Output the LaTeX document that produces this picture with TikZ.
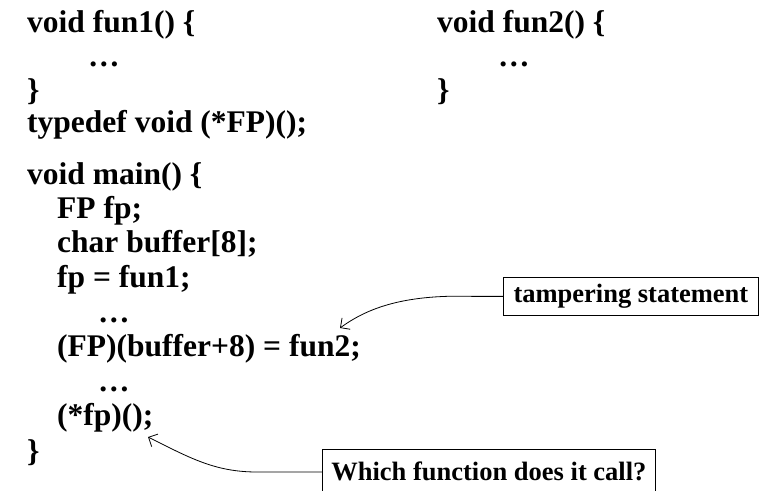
\documentclass[tikz,border=0pt]{standalone}
\usepackage{fontspec}
\setmainfont{Liberation Serif}
\usetikzlibrary{arrows.meta}
\begin{document}
\begin{tikzpicture}[x=1pt,y=1pt,
  code/.style={anchor=base west,inner sep=0pt,font=\fontsize{31.5}{36}\selectfont\bfseries},
  note/.style={draw,line width=0.8pt,inner sep=0pt,anchor=north west,font=\fontsize{26.5}{30}\selectfont\bfseries},
  link/.style={line width=0.8pt,-{Straight Barb[length=7pt,width=14pt,line width=0.8pt]}}]
\useasboundingbox (0,0) rectangle (760,490);
% top functions
\node[code] (f1) at (27,490-33) {void fun1() \{};
\node[code] (f1d) at (88,490-67) {…};
\node[code] (f1e) at (27,490-101) {\}};
\node[code] (td) at (27,490-133) {typedef void (*FP)();};
\node[code] (f2) at (437,490-33) {void fun2() \{};
\node[code] (f2d) at (498,490-67) {…};
\node[code] (f2e) at (437,490-101) {\}};
% main
\node[code] (m0) at (27,490-185) {void main() \{};
\node[code] (m1) at (57,490-219) {FP fp;};
\node[code] (m2) at (57,490-253) {char buffer[8];};
\node[code] (m3) at (57,490-288) {fp = fun1;};
\node[code] (m4) at (98,490-323) {…};
\node[code] (m5) at (57,490-357) {(FP)(buffer+8) = fun2;};
\node[code] (m6) at (98,490-391) {…};
\node[code] (m7) at (57,490-425) {(*fp)();};
\node[code] (m8) at (27,490-461) {\}};
% notes
\node[note,minimum width=255pt,minimum height=38pt] (n1) at (503,490-277) {tampering statement};
\node[note,minimum width=333pt,minimum height=44pt,text depth=0pt] (n2) at (322,490-449) {Which function does it call?};
\coordinate (t1) at (340,490-328);
\coordinate (t2) at (148,490-437);
\draw[link] (n1.west) -- ++(-30,0) .. controls (400,196) and (365,180) .. (t1);
\draw[link] (n2.west |- 0,18) -- ++(-65,0) .. controls (215,18) and (190,32) .. (t2);
\end{tikzpicture}
\end{document}
